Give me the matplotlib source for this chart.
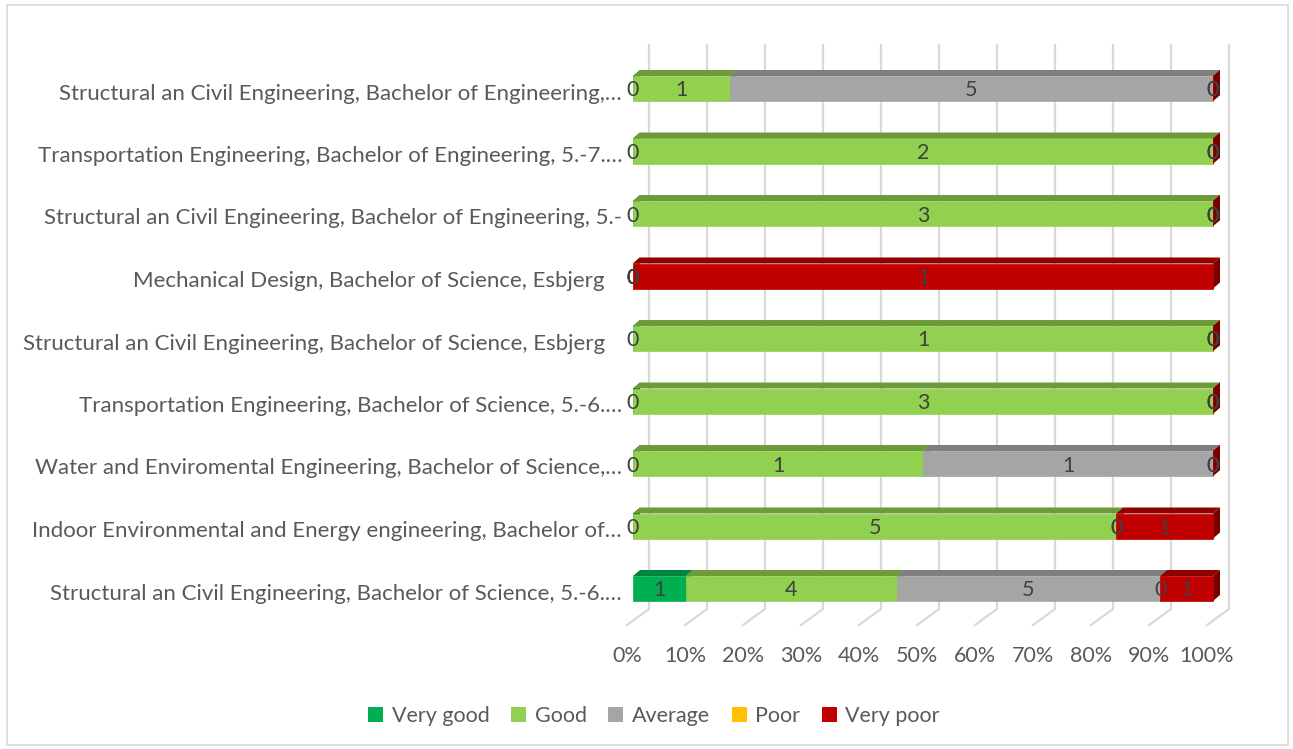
import matplotlib
matplotlib.use('Agg')
import matplotlib.pyplot as plt
from matplotlib.patches import Polygon, Patch, Rectangle

plt.rcParams['font.family'] = ['Lato', 'DejaVu Sans']

# categories listed bottom to top
programs = [
    'Structural an Civil Engineering, Bachelor of Science, 5.-6.\u2026',
    'Indoor Environmental and Energy engineering, Bachelor of\u2026',
    'Water and Enviromental Engineering, Bachelor of Science,\u2026',
    'Transportation Engineering, Bachelor of Science, 5.-6.\u2026',
    'Structural an Civil Engineering, Bachelor of Science, Esbjerg   ',
    'Mechanical Design, Bachelor of Science, Esbjerg   ',
    'Structural an Civil Engineering, Bachelor of Engineering, 5.-',
    'Transportation Engineering, Bachelor of Engineering, 5.-7.\u2026',
    'Structural an Civil Engineering, Bachelor of Engineering,\u2026',
]
ratings = ['Very good', 'Good', 'Average', 'Poor', 'Very poor']
very_good = [1, 0, 0, 0, 0, 0, 0, 0, 0]
good      = [4, 5, 1, 3, 1, 0, 3, 2, 1]
average   = [5, 0, 1, 0, 0, 0, 0, 0, 5]
poor      = [0, 0, 0, 0, 0, 0, 0, 0, 0]
very_poor = [1, 1, 0, 0, 0, 1, 0, 0, 0]
xticks = [0, 10, 20, 30, 40, 50, 60, 70, 80, 90, 100]

front = ['#00b050', '#92d050', '#a5a5a5', '#ffc000', '#c00000']
top = ['#00853c', '#6f9a3a', '#7f7f7f', '#c09000', '#900000']
side = ['#006b30', '#5a8030', '#6a6a6a', '#a07800', '#7a0000']
text_col = '#595959'
label_col = '#404040'
fs_cat = 16
fs = 15.5

W, H = 1293, 749
fig = plt.figure(figsize=(W / 100, H / 100), dpi=100)
fig.patches.append(Rectangle((7 / W, 4 / H), 1281 / W, 740 / H, transform=fig.transFigure,
                             fill=False, edgecolor='#d9d9d9', linewidth=1.2))

# axes placed in pixels; x=0 -> 633px, x=1 -> 1213px ; category i centre at 588.5 - 62.5*i
px0, px1 = 600, 1260
py_top, py_bot = 30, 640
ax = fig.add_axes([px0 / W, 1 - py_bot / H, (px1 - px0) / W, (py_bot - py_top) / H])
sx = 1 / 580.0
sy = 1 / 62.5
ax.set_xlim((px0 - 633) * sx, (px1 - 633) * sx)
ax.set_ylim((588.5 - py_bot) * sy, (588.5 - py_top) * sy)
ax.axis('off')

# back wall gridlines + floor
gx = 16 * sx
y_grid_top = (588.5 - 45) * sy
y_grid_bot = (588.5 - 609) * sy
y_floor = (588.5 - 625) * sy
for t in xticks:
    v = t / 100
    ax.plot([v + gx, v + gx, v - 6 * sx], [y_grid_top, y_grid_bot, y_floor],
            color='#d9d9d9', linewidth=1.6, zorder=1, solid_joinstyle='miter')
    ax.text(v - 6 * sx, (588.5 - 656) * sy, f'{t}%', ha='center', va='center',
            fontsize=fs, color=text_col, clip_on=False)

series = [very_good, good, average, poor, very_poor]
h = 25 * sy
dx = 7 * sx
dy = 6 * sy
for i, name in enumerate(programs):
    total = sum(s[i] for s in series)
    left = 0.0
    z = 2
    for k, s in enumerate(series):
        w = s[i] / total
        r = left + w
        ax.barh(i, w, left=left, height=h, color=front[k], edgecolor=front[k],
                linewidth=0.5, zorder=z + 2)
        ax.add_patch(Polygon([(left, i + h / 2), (left + dx, i + h / 2 + dy),
                              (r + dx, i + h / 2 + dy), (r, i + h / 2)],
                             closed=True, facecolor=top[k], edgecolor='none', zorder=z + 2))
        ax.add_patch(Polygon([(r, i - h / 2), (r, i + h / 2), (r + dx, i + h / 2 + dy),
                              (r + dx, i - h / 2 + dy)],
                             closed=True, facecolor=side[k], edgecolor='none', zorder=z + 1))
        ax.text(left + w / 2, i - 2 * sy, str(s[i]), ha='center', va='center', fontsize=fs,
                color=label_col, zorder=20)
        left = r
        z += 3
    ax.text(-11 * sx, i - 5 * sy, name, ha='right', va='center', fontsize=fs_cat,
            color=text_col, clip_on=False)

handles = [Patch(facecolor=c, edgecolor='none') for c in front]
fig.legend(handles, ratings, loc='center', bbox_to_anchor=(654 / W, 1 - 716 / H), ncol=5,
           frameon=False, fontsize=fs, labelcolor=text_col, handlelength=0.7,
           handleheight=0.7, handletextpad=0.4, columnspacing=1.0)

fig.savefig('out.png', dpi=100)
